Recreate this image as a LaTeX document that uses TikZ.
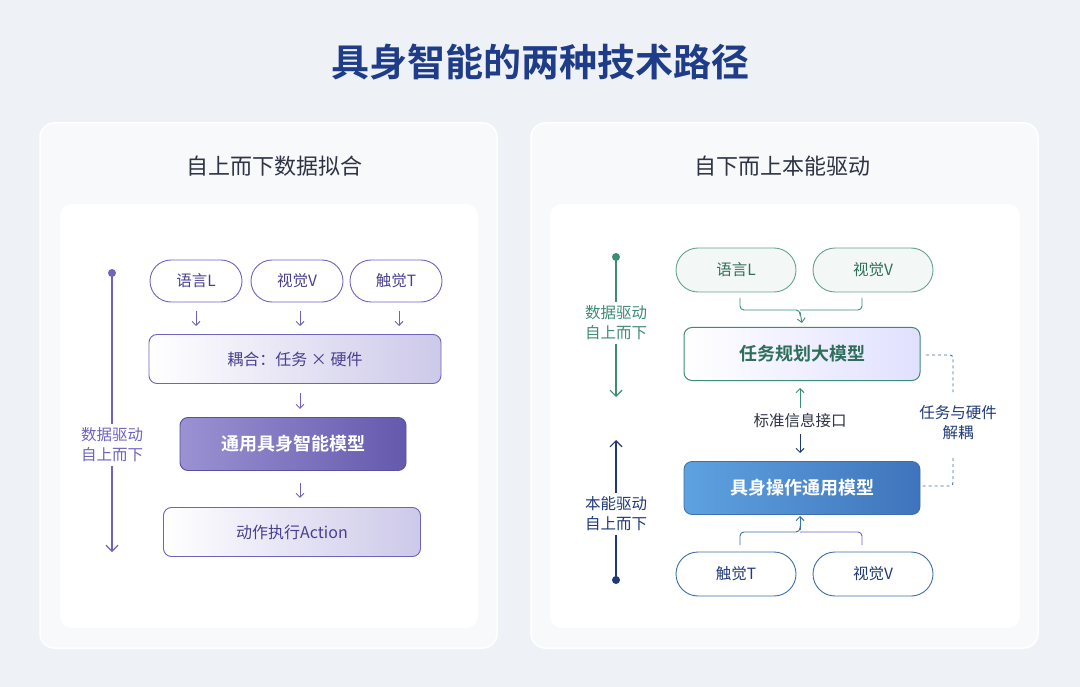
\documentclass[tikz,border=0pt]{standalone}
\usepackage{fontspec}
\setmainfont{Noto Sans CJK SC}
\newfontfamily\cjkbold{Noto Sans CJK SC Bold}
\usetikzlibrary{positioning,arrows.meta,shadows}
\definecolor{bgc}{HTML}{EEF1F6}
\definecolor{titlec}{HTML}{1F3C88}
\definecolor{headc}{HTML}{2E3445}
\definecolor{purp}{HTML}{6F63C0}
\definecolor{purptxt}{HTML}{4A3F8F}
\definecolor{grn}{HTML}{3D8C74}
\definecolor{grntxt}{HTML}{2E6E5A}
\definecolor{navy}{HTML}{1F3A7A}
\definecolor{bluet}{HTML}{3D6FA8}
\definecolor{blueA}{HTML}{5EA2E0}
\definecolor{blueB}{HTML}{3F74BC}
\tikzset{
  panel/.style={draw=white, line width=1.5pt, fill=white, fill opacity=0.6, rounded corners=14pt},
  inner/.style={fill=white, rounded corners=12pt},
  pillL/.style={draw=purp, line width=0.9pt, fill=white, rounded corners=21pt, minimum width=92pt, minimum height=42pt, text=purptxt, font=\fontsize{15.5}{15.5}\selectfont},
  boxL/.style={draw=purp, line width=0.9pt, rounded corners=8pt, left color=white, right color=purp!35, text=purptxt, font=\fontsize{16}{16}\selectfont},
  pillR/.style={draw=grn!80, line width=0.9pt, fill=grn!6, rounded corners=22pt, minimum width=120pt, minimum height=44pt, text=grntxt, font=\fontsize{15.5}{15.5}\selectfont},
  pillB/.style={pillR, draw=bluet, fill=white, text=navy},
  arr/.style={-{Straight Barb[length=4pt]}, line width=0.9pt},
  side/.style={align=center, font=\fontsize{15.5}{20}\selectfont},
}
\begin{document}
\begin{tikzpicture}[x=1pt, y=-1pt]
\useasboundingbox (0,0) rectangle (1080,687);
\fill[bgc] (0,0) rectangle (1080,687);
\node[text=titlec, font=\cjkbold\fontsize{38}{38}\selectfont] (title) at (540,62) {具身智能的两种技术路径};

% left panel
\draw[panel] (40,123) rectangle (497,648);
\fill[inner] (60,204) rectangle (478,628);
\node[text=headc, font=\fontsize{22}{22}\selectfont] (lhead) at (274,166) {自上而下数据拟合};

\node[pillL] (lang) at (196,281) {语言L};
\node[pillL] (vis) at (297,281) {视觉V};
\node[pillL] (tac) at (396,281) {触觉T};
\node[boxL, minimum width=292pt, minimum height=49pt] (couple) at (295,359) {耦合：任务 × 硬件};
\node[draw=purp!80!black, line width=0.9pt, rounded corners=8pt, left color=purp!70, right color=purp!90!black, text=white, font=\cjkbold\fontsize{18}{18}\selectfont, minimum width=226pt, minimum height=53pt] (general) at (293,444) {通用具身智能模型};
\node[boxL, minimum width=257pt, minimum height=49pt] (act) at (292,532) {动作执行Action};

\foreach \n/\x in {lang/196,vis/300,tac/399}
  \draw[arr, purp] (\x,311) -- (\x,326);
\draw[arr, purp] (couple.south) ++(5,9) -- ++(0,16);
\draw[arr, purp] (general.south) ++(7,12) -- ++(0,15);

\fill[purp] (112,273) circle (4pt);
\node[side, text=purp] (ldrive) at (112,445) {数据驱动\\自上而下};
\draw[purp, line width=1.2pt] (112,273) -- (ldrive.north);
\draw[purp, line width=1.2pt, -{Straight Barb[length=6pt]}] (ldrive.south) -- (112,552);

% right panel
\draw[panel] (531,123) rectangle (1038,648);
\fill[inner] (550,204) rectangle (1020,628);
\node[text=headc, font=\fontsize{22}{22}\selectfont] (rhead) at (782,166) {自下而上本能驱动};

\node[pillR] (rlang) at (736,270) {语言L};
\node[pillR] (rvis) at (873,270) {视觉V};
\node[draw=grn, line width=1pt, rounded corners=8pt, left color=white, right color=blue!12, text=grntxt, font=\cjkbold\fontsize{18}{18}\selectfont, minimum width=236pt, minimum height=53pt] (plan) at (802,354) {任务规划大模型};
\node[draw=bluet, line width=0.8pt, rounded corners=8pt, left color=blueA, right color=blueB, text=white, font=\cjkbold\fontsize{18}{18}\selectfont, minimum width=236pt, minimum height=53pt] (oper) at (802,488) {具身操作通用模型};
\node[pillB] (rtac) at (736,574) {触觉T};
\node[pillB] (rvis2) at (873,574) {视觉V};

\draw[grn, line width=0.9pt, rounded corners=4pt] (740,298) -- (740,310) -- (800,310) -- (800,316);
\draw[grn, line width=0.9pt, rounded corners=4pt] (862,298) -- (862,310) -- (800,310);
\draw[arr, grn] (800,312) -- (plan.south |- 0,323);
\draw[bluet, line width=0.9pt, rounded corners=4pt] (740,545) -- (740,532) -- (800,532) -- (800,526);
\draw[purp, line width=0.9pt, rounded corners=4pt] (862,545) -- (862,532) -- (800,532);
\draw[arr, bluet] (800,530) -- (800,516);

\node[text=headc, font=\fontsize{15.5}{15.5}\selectfont] (iface) at (800,421) {标准信息接口};
\draw[arr, grn] (iface.north) ++(0,-2) -- (800,388);
\draw[arr, navy] (iface.south) ++(0,2) -- (800,453);

\node[side, text=navy] (decouple) at (958,423) {任务与硬件\\解耦};
\draw[bluet, dashed, line width=0.9pt, rounded corners=3pt] (926,355) -- (953,355) -- (953,392);
\draw[bluet, dashed, line width=0.9pt, rounded corners=3pt] (953,458) -- (953,486) -- (922,486);

\fill[grn] (616,257) circle (4pt);
\node[side, text=grn] (rtop) at (616,323) {数据驱动\\自上而下};
\draw[grn, line width=1.2pt] (616,257) -- (rtop.north);
\draw[grn, line width=1.2pt, -{Straight Barb[length=6pt]}] (rtop.south) -- (616,397);
\node[side, text=navy] (rbot) at (616,514) {本能驱动\\自上而下};
\draw[navy, line width=1.2pt, -{Straight Barb[length=6pt]}] (rbot.north) -- (616,440);
\draw[navy, line width=1.2pt] (rbot.south) -- (616,580);
\fill[navy] (616,580) circle (4pt);
\end{tikzpicture}
\end{document}
